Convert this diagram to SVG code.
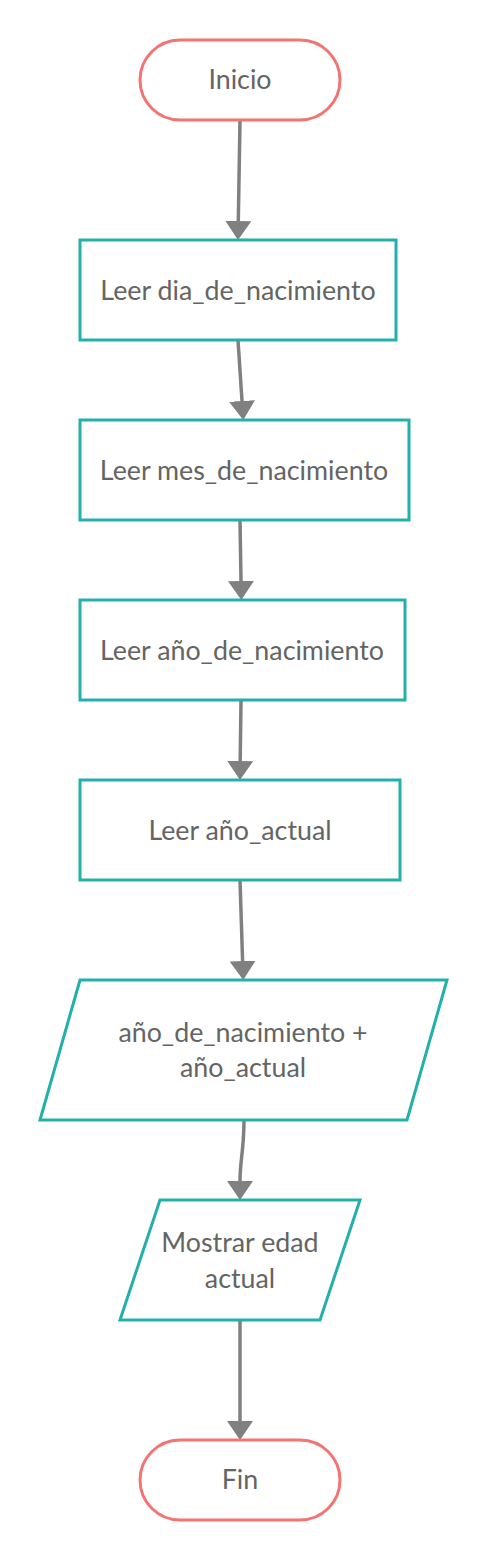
<svg xmlns="http://www.w3.org/2000/svg" width="487" height="1560" viewBox="0 0 487 1560">
<style>
.term{fill:#fff;stroke:#f27573;stroke-width:3}
.proc{fill:#fff;stroke:#22b0aa;stroke-width:3}
.conn{fill:none;stroke:#808080;stroke-width:3.5}
text{font-family:Lato,"Open Sans","Liberation Sans",sans-serif;font-size:26.8px;fill:#646464;text-anchor:middle}
</style>
<defs>
<marker id="ah" markerUnits="userSpaceOnUse" viewBox="0 0 19 26" refX="0" refY="13" markerWidth="19" markerHeight="26" orient="auto">
<path d="M0,0 L19,13 L0,26 z" fill="#808080"/>
</marker>
</defs>
<rect width="487" height="1560" fill="#fff"/>
<g id="connectors">
<path class="conn" d="M240,120 L238.3,221" marker-end="url(#ah)"/>
<path class="conn" d="M238,340 L242,401" marker-end="url(#ah)"/>
<path class="conn" d="M240,520 L241,581" marker-end="url(#ah)"/>
<path class="conn" d="M241,700 L240.2,761" marker-end="url(#ah)"/>
<path class="conn" d="M240,880 L242.6,961" marker-end="url(#ah)"/>
<path class="conn" d="M244,1120 C244,1150 240,1160 240,1181" marker-end="url(#ah)"/>
<path class="conn" d="M240,1320 L240,1421" marker-end="url(#ah)"/>
</g>
<g id="inicio">
<rect class="term" x="140" y="40" width="200" height="80" rx="40" ry="40"/>
<text x="240" y="89">Inicio</text>
</g>
<g id="leer_dia">
<rect class="proc" x="80" y="240" width="316" height="100"/>
<text x="238" y="300">Leer dia_de_nacimiento</text>
</g>
<g id="leer_mes">
<rect class="proc" x="80" y="420" width="329" height="100"/>
<text x="244" y="480">Leer mes_de_nacimiento</text>
</g>
<g id="leer_anio">
<rect class="proc" x="80" y="600" width="325" height="100"/>
<text x="242" y="660">Leer año_de_nacimiento</text>
</g>
<g id="leer_actual">
<rect class="proc" x="80" y="780" width="320" height="100"/>
<text x="240" y="840">Leer año_actual</text>
</g>
<g id="calculo">
<polygon class="proc" points="80,980 447,980 407,1120 40,1120"/>
<text x="243" y="1042">año_de_nacimiento +</text>
<text x="243" y="1077">año_actual</text>
</g>
<g id="mostrar">
<polygon class="proc" points="160,1200 360,1200 320,1320 120,1320"/>
<text x="240" y="1252">Mostrar edad</text>
<text x="240" y="1288">actual</text>
</g>
<g id="fin">
<rect class="term" x="140" y="1440" width="200" height="80" rx="40" ry="40"/>
<text x="240" y="1489">Fin</text>
</g>
</svg>
